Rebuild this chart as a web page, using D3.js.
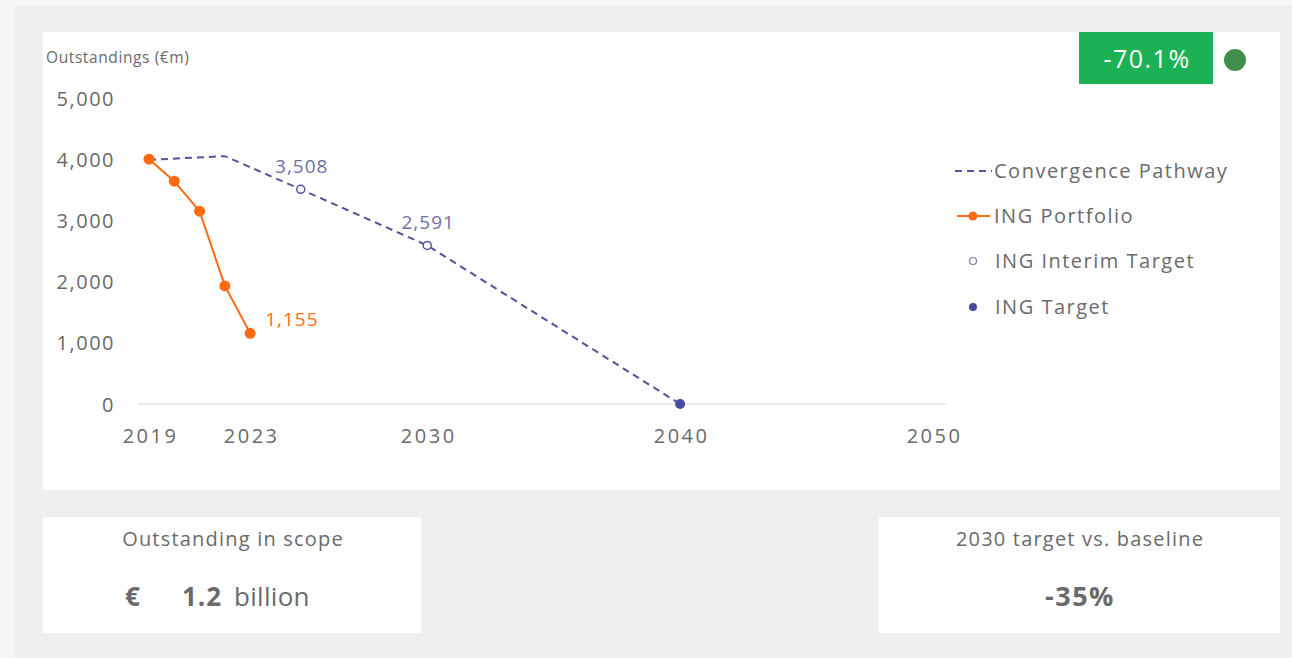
<!DOCTYPE html>
<html><head><meta charset="utf-8">
<script src="https://cdn.jsdelivr.net/npm/d3@7"></script>
<style>
html,body{margin:0;padding:0;background:#f0f0f0;}
svg{display:block;}
</style></head>
<body>
<svg id="c" width="1292" height="658"></svg>
<script>
// ---- data ----
const portfolioYears = [2019, 2020, 2021, 2022, 2023];
const portfolioValues = [4000, 3640, 3150, 1930, 1155];
const pathwayYears = [2019, 2022, 2025, 2030, 2040];
const pathwayValues = [3990, 4050, 3508, 2591, 0];
const interimYears = [2025, 2030];
const interimValues = [3508, 2591];
const targetYears = [2040];
const targetValues = [0];
const xTickLabels = [2019, 2023, 2030, 2040, 2050];
const yTickLabels = [0, 1000, 2000, 3000, 4000, 5000];
const legendItems = ["Convergence Pathway", "ING Portfolio", "ING Interim Target", "ING Target"];
const yAxisTitle = "Outstandings (€m)";
const badgeText = "-70.1%";
const box1Title = "Outstanding in scope";
const box1Value = ["€", "1.2", "billion"];
const box2Title = "2030 target vs. baseline";
const box2Value = "-35%";

const FONT = "'Open Sans', 'Noto Sans', sans-serif";
const TXT = "#6a6a6a";
const ORANGE = "#ff6a13";
const PURPLE = "#54549c";

const svg = d3.select("#c");
svg.style("font-family", FONT);

// background panels
svg.append("rect").attr("x",0).attr("y",0).attr("width",1292).attr("height",658).attr("fill","#efefef");
svg.append("rect").attr("x",0).attr("y",0).attr("width",1292).attr("height",5).attr("fill","#f8f8f8");
svg.append("rect").attr("x",0).attr("y",0).attr("width",15).attr("height",658).attr("fill","#f6f6f6");
svg.append("rect").attr("x",43).attr("y",32).attr("width",1237).attr("height",458).attr("fill","#fff");
svg.append("rect").attr("x",43).attr("y",517).attr("width",378).attr("height",116).attr("fill","#fff");
svg.append("rect").attr("x",879).attr("y",517).attr("width",401).attr("height",116).attr("fill","#fff");

// scales
const x = d3.scaleLinear().domain([2019, 2050]).range([149, 933]);
const y = d3.scaleLinear().domain([0, 5000]).range([404, 98]);

// zero baseline
svg.append("line").attr("x1",138).attr("x2",947).attr("y1",y(0)).attr("y2",y(0))
  .attr("stroke","#ebebeb").attr("stroke-width",2);

// y axis
const yAxis = d3.axisLeft(y).tickValues(yTickLabels).tickSize(0).tickPadding(0)
  .tickFormat(d3.format(","));
const gy = svg.append("g").attr("transform","translate(115,0)").call(yAxis);
gy.select(".domain").remove();
gy.selectAll("text").attr("fill",TXT).style("font-size","20px").style("font-family",FONT)
  .style("letter-spacing","1.5px").attr("dy","0.35em");

// x axis
const xAxis = d3.axisBottom(x).tickValues(xTickLabels).tickSize(0).tickPadding(0).tickFormat(d3.format("d"));
const gx = svg.append("g").attr("transform","translate(1,429)").call(xAxis);
gx.select(".domain").remove();
gx.selectAll("text").attr("fill",TXT).style("font-size","20px").style("font-family",FONT)
  .style("letter-spacing","2.5px").attr("dy","0.71em");

svg.append("text").attr("x",46).attr("y",63).attr("fill",TXT).style("font-size","15.5px")
  .style("letter-spacing","0.6px").text(yAxisTitle);

// pathway
const line = d3.line().x(d=>x(d[0])).y(d=>y(d[1]));
svg.append("path").datum(d3.zip(pathwayYears, pathwayValues)).attr("d", line)
  .attr("fill","none").attr("stroke",PURPLE).attr("stroke-width",2).attr("stroke-dasharray","7,5");

// portfolio
const pData = d3.zip(portfolioYears, portfolioValues);
svg.append("path").datum(pData).attr("d", line)
  .attr("fill","none").attr("stroke",ORANGE).attr("stroke-width",2);
svg.selectAll(".pdot").data(pData).enter().append("circle")
  .attr("cx",d=>x(d[0])).attr("cy",d=>y(d[1])).attr("r",5.5).attr("fill",ORANGE);
svg.append("text").datum(pData[pData.length-1])
  .attr("x",d=>x(d[0])+15).attr("y",d=>y(d[1])-7).attr("fill",ORANGE).style("font-size","19px")
  .style("letter-spacing","1px").text(d=>d3.format(",")(d[1]));

// interim
const iData = d3.zip(interimYears, interimValues);
svg.selectAll(".idot").data(iData).enter().append("circle")
  .attr("cx",d=>x(d[0])).attr("cy",d=>y(d[1])).attr("r",4).attr("fill","#fff")
  .attr("stroke",PURPLE).attr("stroke-width",1.5);
svg.selectAll(".ilab").data(iData).enter().append("text")
  .attr("x",d=>x(d[0])+1).attr("y",d=>y(d[1])-16).attr("text-anchor","middle")
  .attr("fill","#6e6ea8").style("font-size","19px").style("letter-spacing","1px")
  .text(d=>d3.format(",")(d[1]));

// target
svg.selectAll(".tdot").data(d3.zip(targetYears,targetValues)).enter().append("circle")
  .attr("cx",d=>x(d[0])).attr("cy",d=>y(d[1])).attr("r",5).attr("fill","#4a4aa0");

// legend
const lg = svg.append("g");
const ly = [171, 216, 261, 307];
lg.append("line").attr("x1",955).attr("x2",992).attr("y1",ly[0]).attr("y2",ly[0])
  .attr("stroke",PURPLE).attr("stroke-width",2).attr("stroke-dasharray","7,5");
lg.append("line").attr("x1",957).attr("x2",990).attr("y1",ly[1]).attr("y2",ly[1])
  .attr("stroke",ORANGE).attr("stroke-width",2);
lg.append("circle").attr("cx",973).attr("cy",ly[1]).attr("r",4.5).attr("fill",ORANGE);
lg.append("circle").attr("cx",973).attr("cy",ly[2]).attr("r",3.5).attr("fill","#fff").attr("stroke","#7a7aa8").attr("stroke-width",1.2);
lg.append("circle").attr("cx",973).attr("cy",ly[3]).attr("r",4).attr("fill","#4a4aa0");
lg.selectAll("text").data(legendItems).enter().append("text")
  .attr("x",(d,i)=> i<2 ? 994 : 995).attr("y",(d,i)=>ly[i]).attr("dy","0.35em")
  .attr("fill",TXT).style("font-size","20px").style("letter-spacing","1.5px").text(d=>d);

// badge
svg.append("rect").attr("x",1079).attr("y",32).attr("width",134).attr("height",52).attr("fill","#1db155");
svg.append("text").attr("x",1147).attr("y",59).attr("dy","0.35em").attr("text-anchor","middle")
  .attr("fill","#fff").style("font-size","25px").style("letter-spacing","1.5px").text(badgeText);
svg.append("circle").attr("cx",1235).attr("cy",60).attr("r",11).attr("fill","#3f8f4f");

// boxes
svg.append("text").attr("x",233).attr("y",539).attr("dy","0.35em").attr("text-anchor","middle")
  .attr("fill",TXT).style("font-size","20px").style("letter-spacing","1.2px").text(box1Title);
const bv = svg.append("text").attr("x",125).attr("y",597).attr("dy","0.35em").attr("fill",TXT).style("font-size","26px");
bv.append("tspan").style("font-weight","bold").text(box1Value[0]);
bv.append("tspan").attr("x",182).style("font-weight","bold").style("letter-spacing","1px").text(box1Value[1]);
bv.append("tspan").attr("x",234).style("letter-spacing","0.3px").text(box1Value[2]);

svg.append("text").attr("x",1080).attr("y",539).attr("dy","0.35em").attr("text-anchor","middle")
  .attr("fill",TXT).style("font-size","20px").style("letter-spacing","1.2px").text(box2Title);
svg.append("text").attr("x",1080).attr("y",597).attr("dy","0.35em").attr("text-anchor","middle")
  .attr("fill",TXT).style("font-size","27px").style("font-weight","bold").style("letter-spacing","1.5px").text(box2Value);
</script>
</body></html>
